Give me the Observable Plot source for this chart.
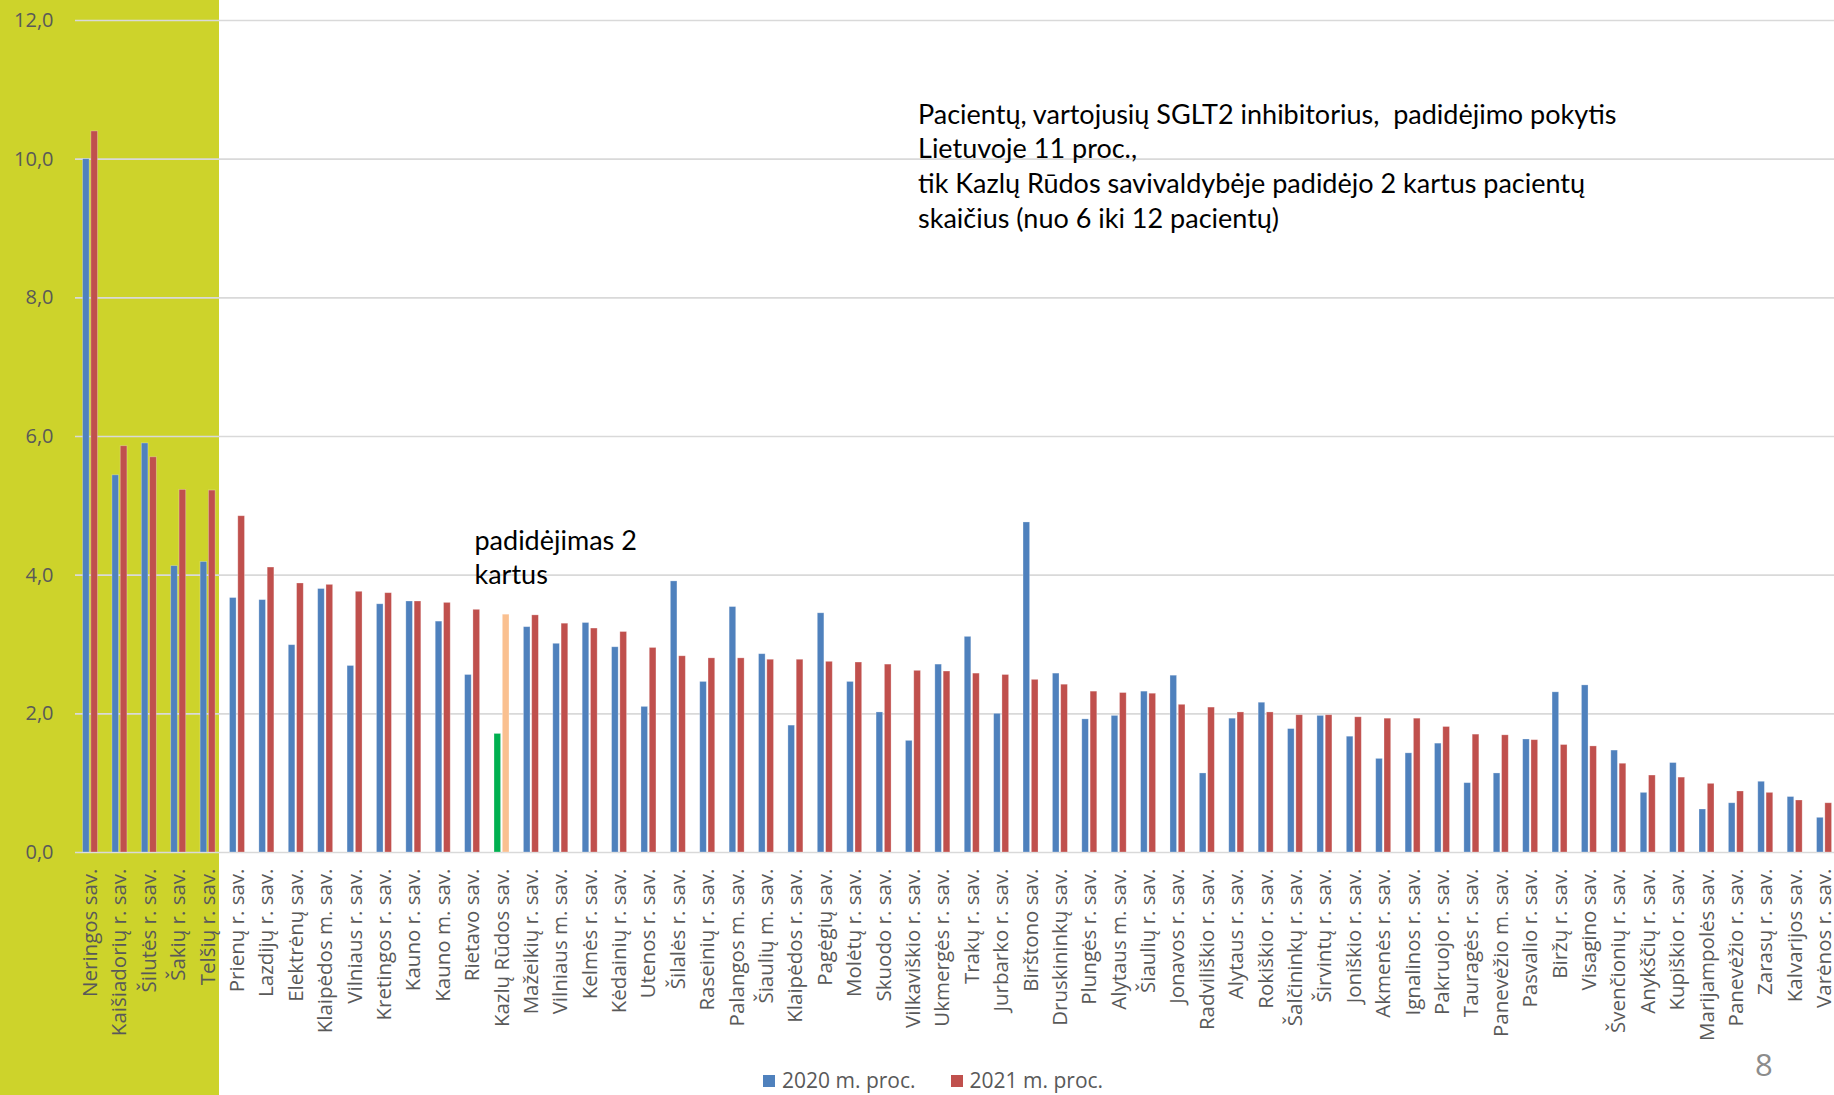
<!DOCTYPE html>
<html>
<head>
<meta charset="utf-8">
<script src="https://cdn.jsdelivr.net/npm/d3@7"></script>
<script src="https://cdn.jsdelivr.net/npm/@observablehq/plot@0.6"></script>
<style>
  html, body { margin: 0; padding: 0; background: #fff; width: 1834px; height: 1095px; overflow: hidden; }
  #wrap { position: relative; width: 1834px; height: 1095px; }
  #bg { position: absolute; left: 0; top: 0; height: 1095px; background: #cdd32b; }
  #chart { position: absolute; left: 0; top: 0; }
  #legend { position: absolute; left: 763px; top: 1066px; font-family: "Open Sans", sans-serif; font-size: 21px; color: #595959; line-height: 28px; white-space: nowrap; }
  #legend .sw { display: inline-block; width: 12px; height: 12px; margin-right: 7px; vertical-align: 1px; }
  #legend .item { margin-right: 35px; }
  #page { position: absolute; left: 1755px; top: 1043px; font-family: "Open Sans", sans-serif; font-size: 31px; color: #8c8c8c; }
</style>
</head>
<body>
<div id="wrap">
  <div id="bg"></div>
  <div id="chart"></div>
  <div id="legend"></div>
  <div id="page">8</div>
</div>
<script>
const categories = ["Neringos sav.", "Kaišiadorių r. sav.", "Šilutės r. sav.", "Šakių r. sav.", "Telšių r. sav.", "Prienų r. sav.", "Lazdijų r. sav.", "Elektrėnų sav.", "Klaipėdos m. sav.", "Vilniaus r. sav.", "Kretingos r. sav.", "Kauno r. sav.", "Kauno m. sav.", "Rietavo sav.", "Kazlų Rūdos sav.", "Mažeikių r. sav.", "Vilniaus m. sav.", "Kelmės r. sav.", "Kėdainių r. sav.", "Utenos r. sav.", "Šilalės r. sav.", "Raseinių r. sav.", "Palangos m. sav.", "Šiaulių m. sav.", "Klaipėdos r. sav.", "Pagėgių sav.", "Molėtų r. sav.", "Skuodo r. sav.", "Vilkaviškio r. sav.", "Ukmergės r. sav.", "Trakų r. sav.", "Jurbarko r. sav.", "Birštono sav.", "Druskininkų sav.", "Plungės r. sav.", "Alytaus m. sav.", "Šiaulių r. sav.", "Jonavos r. sav.", "Radviliškio r. sav.", "Alytaus r. sav.", "Rokiškio r. sav.", "Šalčininkų r. sav.", "Širvintų r. sav.", "Joniškio r. sav.", "Akmenės r. sav.", "Ignalinos r. sav.", "Pakruojo r. sav.", "Tauragės r. sav.", "Panevėžio m. sav.", "Pasvalio r. sav.", "Biržų r. sav.", "Visagino sav.", "Švenčionių r. sav.", "Anykščių r. sav.", "Kupiškio r. sav.", "Marijampolės sav.", "Panevėžio r. sav.", "Zarasų r. sav.", "Kalvarijos sav.", "Varėnos r. sav."];

const values2020 = [10.0, 5.44, 5.90, 4.13, 4.19, 3.67, 3.64, 2.99, 3.80, 2.69, 3.58, 3.62, 3.33, 2.56, 1.71, 3.25, 3.01, 3.31, 2.96, 2.10, 3.91, 2.46, 3.54, 2.86, 1.83, 3.45, 2.46, 2.02, 1.61, 2.71, 3.11, 2.00, 4.76, 2.58, 1.92, 1.97, 2.32, 2.55, 1.14, 1.93, 2.16, 1.78, 1.97, 1.67, 1.35, 1.43, 1.57, 1.00, 1.14, 1.63, 2.31, 2.41, 1.47, 0.86, 1.29, 0.62, 0.71, 1.02, 0.80, 0.50];

const values2021 = [10.40, 5.86, 5.70, 5.23, 5.22, 4.85, 4.11, 3.88, 3.86, 3.76, 3.74, 3.62, 3.60, 3.50, 3.43, 3.42, 3.30, 3.23, 3.18, 2.95, 2.83, 2.80, 2.80, 2.78, 2.78, 2.75, 2.74, 2.71, 2.62, 2.61, 2.58, 2.56, 2.49, 2.42, 2.32, 2.30, 2.29, 2.13, 2.09, 2.02, 2.02, 1.98, 1.98, 1.95, 1.93, 1.93, 1.81, 1.70, 1.69, 1.62, 1.55, 1.53, 1.28, 1.11, 1.08, 0.99, 0.88, 0.86, 0.75, 0.71];

const seriesNames = ["2020 m. proc.", "2021 m. proc."];
const seriesColors = ["#4f81bd", "#c0504d"];
const highlightCategory = "Kazlų Rūdos sav.";
const highlightColors = ["#00b050", "#fac090"];
const topGroup = categories.slice(0, 5);
const yTicks = [0, 2, 4, 6, 8, 10, 12];

const noteMain = "Pacientų, vartojusių SGLT2 inhibitorius,  padidėjimo pokytis\nLietuvoje 11 proc.,\ntik Kazlų Rūdos savivaldybėje padidėjo 2 kartus pacientų\nskaičius (nuo 6 iki 12 pacientų)";
const noteKazlu = "padidėjimas 2\nkartus";

const rows = categories.map((name, i) => ({name, v2020: values2020[i], v2021: values2021[i]}));

const W = 1834, H = 1066;
const step = 29.39, x0 = 75.3;
const fmt = d => d.toFixed(1).replace(".", ",");

const chart = Plot.plot({
  width: W,
  height: H,
  marginLeft: 75,
  marginRight: 0,
  marginTop: 20,
  marginBottom: H - 852,
  style: {fontFamily: "'Open Sans', sans-serif", fontSize: "20px", color: "#595959", background: "transparent", overflow: "visible"},
  x: {domain: categories, range: [x0, x0 + categories.length * step], padding: 0, round: false, label: null},
  y: {domain: [0, 12], label: null},
  color: {type: "identity"},
  marks: [
    Plot.gridY(yTicks, {stroke: "#d9d9d9", strokeOpacity: 1, strokeWidth: 1.6}),
    Plot.barY(rows, {x: "name", y: "v2020", fill: d => d.name === highlightCategory ? highlightColors[0] : seriesColors[0],
      stroke: "#ffffff", strokeOpacity: 0.35, strokeWidth: 0.8, insetLeft: 7.25, insetRight: 15.55}),
    Plot.barY(rows, {x: "name", y: "v2021", fill: d => d.name === highlightCategory ? highlightColors[1] : seriesColors[1],
      stroke: "#ffffff", strokeOpacity: 0.35, strokeWidth: 0.8, insetLeft: 15.55, insetRight: 7.15}),
    Plot.axisY({ticks: yTicks, tickFormat: fmt, tickSize: 0, tickPadding: 22, fill: "#595959", fontSize: 20}),
    Plot.axisX({tickRotate: -90, tickSize: 0, tickPadding: 16, fill: "#595959", fontSize: 20.5}),
    Plot.text([noteMain], {x: () => "Vilkaviškio r. sav.", y: () => 9.92, text: d => d, textAnchor: "start", lineAnchor: "middle",
      dx: 4.6, fontSize: 27, lineHeight: 1.28, fill: "#000", fontFamily: "Lato, sans-serif"}),
    Plot.text([noteKazlu], {x: () => highlightCategory, y: () => 4.28, text: d => d, textAnchor: "start", lineAnchor: "middle",
      dx: -27.5, fontSize: 27, lineHeight: 1.28, fill: "#000", fontFamily: "Lato, sans-serif"})
  ]
});
document.getElementById("chart").appendChild(chart);

// green background behind the top group, derived from the x scale (apply gives band start)
const xs = chart.scale("x");
const lastTop = topGroup[topGroup.length - 1];
document.getElementById("bg").style.width = (xs.apply(lastTop) + xs.bandwidth - 3) + "px";

// legend
const legend = document.getElementById("legend");
seriesNames.forEach((n, i) => {
  const item = document.createElement("span");
  item.className = "item";
  const sw = document.createElement("span");
  sw.className = "sw";
  sw.style.background = seriesColors[i];
  item.appendChild(sw);
  item.appendChild(document.createTextNode(n));
  legend.appendChild(item);
});
</script>
</body>
</html>
